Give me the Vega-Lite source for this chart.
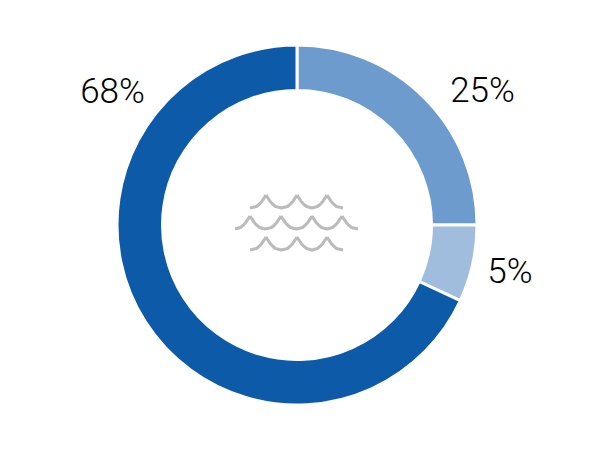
{
"$schema":"https://vega.github.io/schema/vega-lite/v6.json",
"autosize":{"type":"fit","contains":"padding"},
"width":594,"height":450,"padding":0,
"background":"white",
"view":{"stroke":null},
"datasets":{
"slices":[
{"segment":"A","ord":1,"share":25,"label":"25%","lx":185.5,"ly":134},
{"segment":"B","ord":2,"share":6.9,"label":"5%","lx":213,"ly":-47},
{"segment":"C","ord":3,"share":68.1,"label":"68%","lx":-184.5,"ly":133}
],
"waves":[
{"arc":"a1","wx":-47,"wy":17},{"arc":"a1","wx":-40.5,"wy":18.5},{"arc":"a1","wx":-37.5,"wy":21},{"arc":"a1","wx":-35,"wy":23.8},{"arc":"a1","wx":-33,"wy":26.8},{"arc":"a1","wx":-31,"wy":30},
{"arc":"a2","wx":-31,"wy":30},{"arc":"a2","wx":-29,"wy":26.8},{"arc":"a2","wx":-27,"wy":23.8},{"arc":"a2","wx":-24.5,"wy":21},{"arc":"a2","wx":-21.5,"wy":18.5},{"arc":"a2","wx":-15.5,"wy":17},{"arc":"a2","wx":-9.5,"wy":18.5},{"arc":"a2","wx":-6.5,"wy":21},{"arc":"a2","wx":-4,"wy":23.8},{"arc":"a2","wx":-2,"wy":26.8},{"arc":"a2","wx":0,"wy":30},
{"arc":"a3","wx":0,"wy":30},{"arc":"a3","wx":2,"wy":26.8},{"arc":"a3","wx":4,"wy":23.8},{"arc":"a3","wx":6.5,"wy":21},{"arc":"a3","wx":9.5,"wy":18.5},{"arc":"a3","wx":15,"wy":17},{"arc":"a3","wx":20.5,"wy":18.5},{"arc":"a3","wx":23.5,"wy":21},{"arc":"a3","wx":26,"wy":23.8},{"arc":"a3","wx":28,"wy":26.8},{"arc":"a3","wx":30,"wy":30},
{"arc":"a4","wx":30,"wy":30},{"arc":"a4","wx":32,"wy":26.8},{"arc":"a4","wx":34,"wy":23.8},{"arc":"a4","wx":36.5,"wy":21},{"arc":"a4","wx":39.5,"wy":18.5},{"arc":"a4","wx":46,"wy":17},

{"arc":"b1","wx":-62,"wy":-4},{"arc":"b1","wx":-56.5,"wy":-2.5},{"arc":"b1","wx":-53.5,"wy":0},{"arc":"b1","wx":-51,"wy":2.8},{"arc":"b1","wx":-49,"wy":5.8},{"arc":"b1","wx":-47,"wy":9},
{"arc":"b2","wx":-47,"wy":9},{"arc":"b2","wx":-45,"wy":5.8},{"arc":"b2","wx":-43,"wy":2.8},{"arc":"b2","wx":-40.5,"wy":0},{"arc":"b2","wx":-37.5,"wy":-2.5},{"arc":"b2","wx":-31.5,"wy":-4},{"arc":"b2","wx":-25.5,"wy":-2.5},{"arc":"b2","wx":-22.5,"wy":0},{"arc":"b2","wx":-20,"wy":2.8},{"arc":"b2","wx":-18,"wy":5.8},{"arc":"b2","wx":-16,"wy":9},
{"arc":"b3","wx":-16,"wy":9},{"arc":"b3","wx":-14,"wy":5.8},{"arc":"b3","wx":-12,"wy":2.8},{"arc":"b3","wx":-9.5,"wy":0},{"arc":"b3","wx":-6.5,"wy":-2.5},{"arc":"b3","wx":-0.5,"wy":-4},{"arc":"b3","wx":5.5,"wy":-2.5},{"arc":"b3","wx":8.5,"wy":0},{"arc":"b3","wx":11,"wy":2.8},{"arc":"b3","wx":13,"wy":5.8},{"arc":"b3","wx":15,"wy":9},
{"arc":"b4","wx":15,"wy":9},{"arc":"b4","wx":17,"wy":5.8},{"arc":"b4","wx":19,"wy":2.8},{"arc":"b4","wx":21.5,"wy":0},{"arc":"b4","wx":24.5,"wy":-2.5},{"arc":"b4","wx":30,"wy":-4},{"arc":"b4","wx":35.5,"wy":-2.5},{"arc":"b4","wx":38.5,"wy":0},{"arc":"b4","wx":41,"wy":2.8},{"arc":"b4","wx":43,"wy":5.8},{"arc":"b4","wx":45,"wy":9},
{"arc":"b5","wx":45,"wy":9},{"arc":"b5","wx":47,"wy":5.8},{"arc":"b5","wx":49,"wy":2.8},{"arc":"b5","wx":51.5,"wy":0},{"arc":"b5","wx":54.5,"wy":-2.5},{"arc":"b5","wx":61,"wy":-4},

{"arc":"c1","wx":-47,"wy":-25},{"arc":"c1","wx":-40.5,"wy":-23.5},{"arc":"c1","wx":-37.5,"wy":-21},{"arc":"c1","wx":-35,"wy":-18.2},{"arc":"c1","wx":-33,"wy":-15.2},{"arc":"c1","wx":-31,"wy":-12},
{"arc":"c2","wx":-31,"wy":-12},{"arc":"c2","wx":-29,"wy":-15.2},{"arc":"c2","wx":-27,"wy":-18.2},{"arc":"c2","wx":-24.5,"wy":-21},{"arc":"c2","wx":-21.5,"wy":-23.5},{"arc":"c2","wx":-15.5,"wy":-25},{"arc":"c2","wx":-9.5,"wy":-23.5},{"arc":"c2","wx":-6.5,"wy":-21},{"arc":"c2","wx":-4,"wy":-18.2},{"arc":"c2","wx":-2,"wy":-15.2},{"arc":"c2","wx":0,"wy":-12},
{"arc":"c3","wx":0,"wy":-12},{"arc":"c3","wx":2,"wy":-15.2},{"arc":"c3","wx":4,"wy":-18.2},{"arc":"c3","wx":6.5,"wy":-21},{"arc":"c3","wx":9.5,"wy":-23.5},{"arc":"c3","wx":15,"wy":-25},{"arc":"c3","wx":20.5,"wy":-23.5},{"arc":"c3","wx":23.5,"wy":-21},{"arc":"c3","wx":26,"wy":-18.2},{"arc":"c3","wx":28,"wy":-15.2},{"arc":"c3","wx":30,"wy":-12},
{"arc":"c4","wx":30,"wy":-12},{"arc":"c4","wx":32,"wy":-15.2},{"arc":"c4","wx":34,"wy":-18.2},{"arc":"c4","wx":36.5,"wy":-21},{"arc":"c4","wx":39.5,"wy":-23.5},{"arc":"c4","wx":46,"wy":-25}
]
},
"layer":[
{"data":{"name":"slices"},
"mark":{"type":"arc","innerRadius":134.5,"outerRadius":180,"stroke":"white","strokeWidth":3},
"encoding":{
"theta":{"field":"share","type":"quantitative","stack":true},
"order":{"field":"ord","type":"ordinal"},
"color":{"field":"segment","type":"nominal","legend":null,"scale":{"domain":["A","B","C"],"range":["#6d9bcd","#a0bddd","#0d5aa9"]}}
}},
{"data":{"name":"waves"},
"mark":{"type":"line","color":"#bbbbbb","strokeWidth":3,"interpolate":"linear","strokeJoin":"round"},
"encoding":{
"x":{"field":"wx","type":"quantitative","axis":null,"scale":{"domain":[-297,297],"nice":false,"zero":false}},
"y":{"field":"wy","type":"quantitative","axis":null,"scale":{"domain":[-225,225],"nice":false,"zero":false}},
"detail":{"field":"arc"},
"order":{"field":"wx","type":"quantitative"}
}},
{"data":{"name":"slices"},
"mark":{"type":"text","font":"Roboto","fontWeight":300,"fontSize":35,"color":"#000000","align":"center","baseline":"middle"},
"encoding":{
"x":{"field":"lx","type":"quantitative","axis":null,"scale":{"domain":[-297,297],"nice":false,"zero":false}},
"y":{"field":"ly","type":"quantitative","axis":null,"scale":{"domain":[-225,225],"nice":false,"zero":false}},
"text":{"field":"label","type":"nominal"}
}}
]
}
